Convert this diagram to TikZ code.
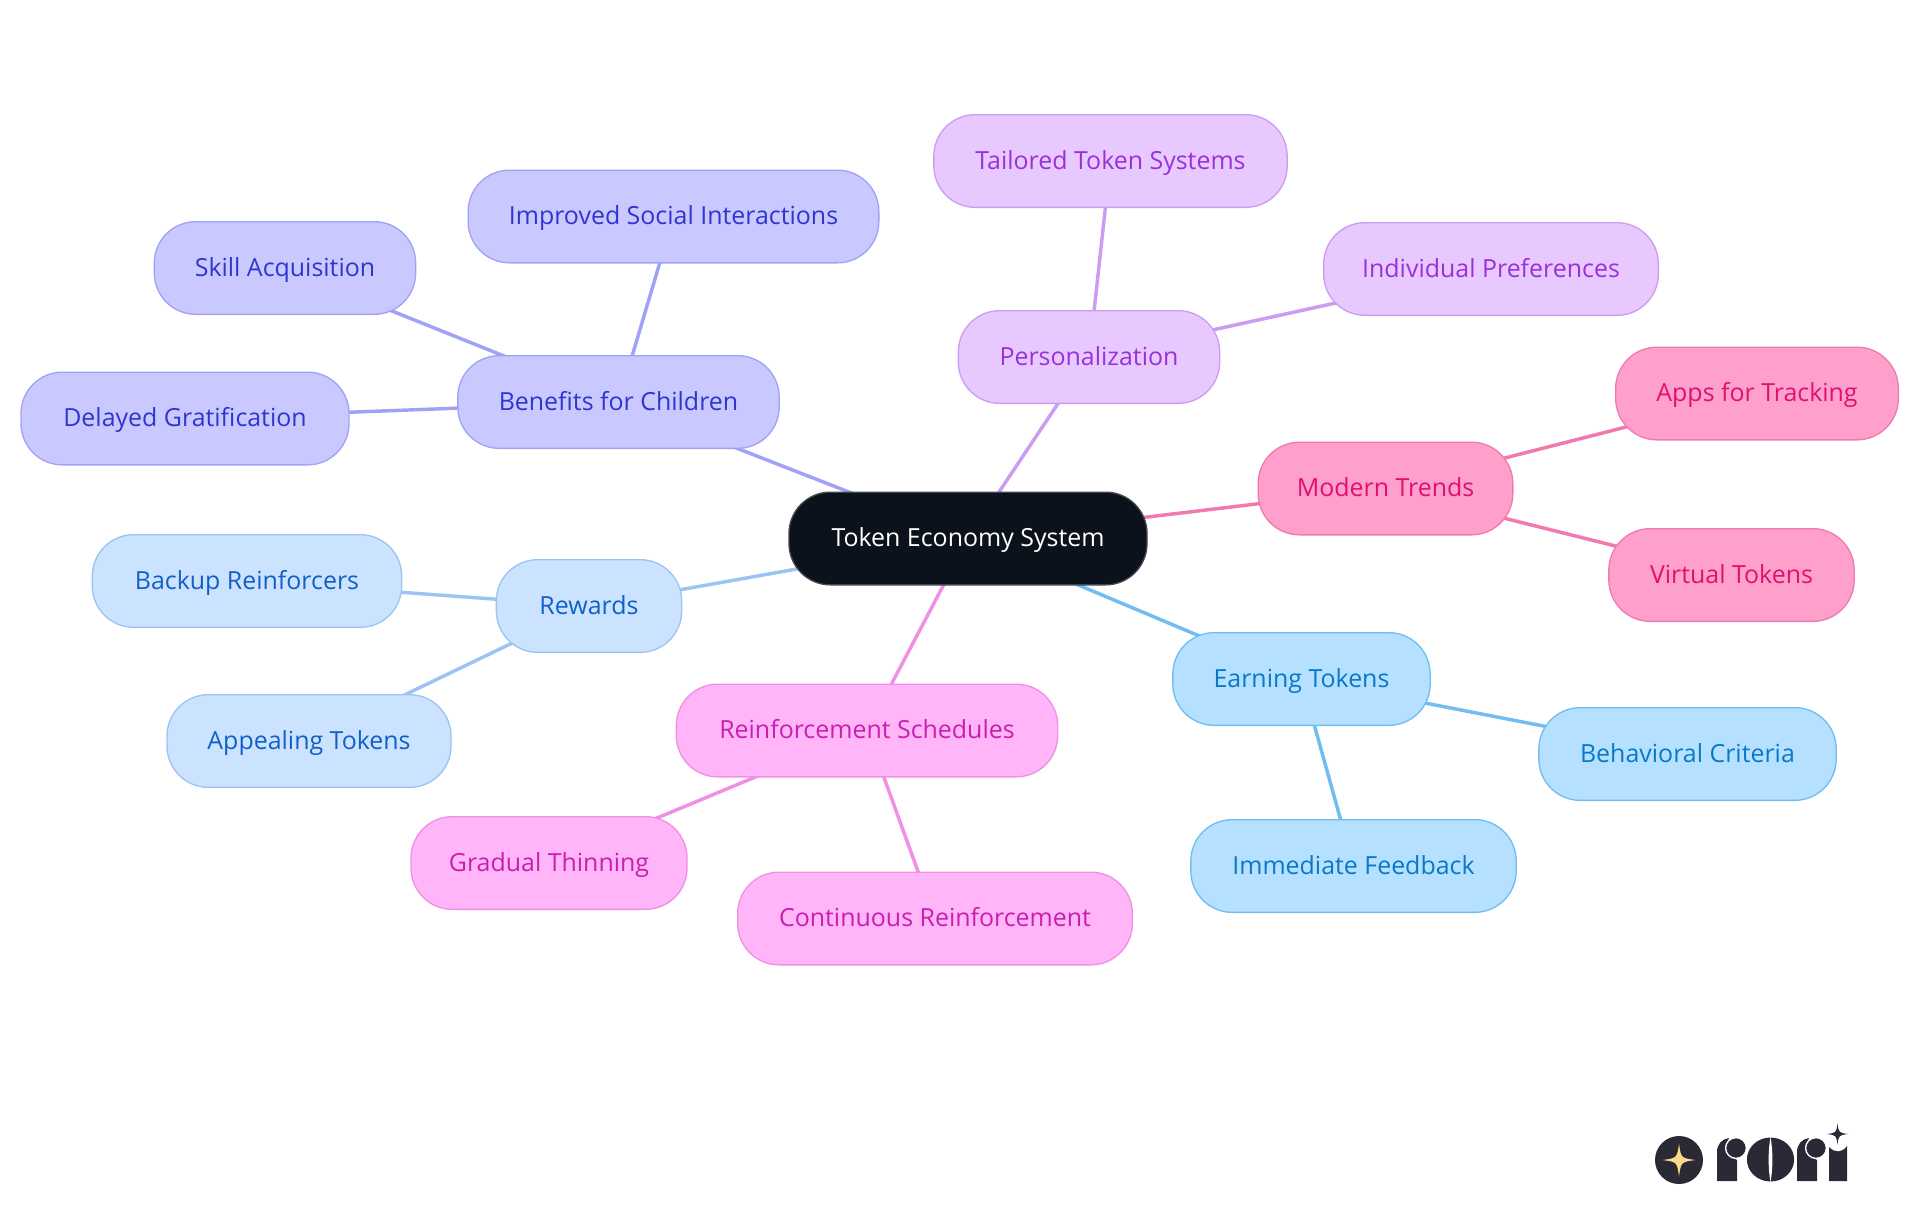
\documentclass[tikz,border=0pt]{standalone}
\usepackage{fontspec}
\setmainfont{Open Sans}
\usepackage{tikz}
\usetikzlibrary{backgrounds}

\definecolor{rootfill}{HTML}{0B121B}
\definecolor{rootline}{HTML}{41464D}
\definecolor{benefitfill}{HTML}{C9C9FF}
\definecolor{benefitline}{HTML}{A0A3F5}
\definecolor{benefittext}{HTML}{2F35CF}
\definecolor{rewardfill}{HTML}{CCE3FF}
\definecolor{rewardline}{HTML}{9CC4F2}
\definecolor{rewardtext}{HTML}{1060C8}
\definecolor{schedfill}{HTML}{FFB5F7}
\definecolor{schedline}{HTML}{F090E5}
\definecolor{schedtext}{HTML}{C81FB0}
\definecolor{earnfill}{HTML}{B5E0FF}
\definecolor{earnline}{HTML}{72BDF0}
\definecolor{earntext}{HTML}{0A78C8}
\definecolor{trendfill}{HTML}{FF9FCB}
\definecolor{trendline}{HTML}{F07AB0}
\definecolor{trendtext}{HTML}{E01070}
\definecolor{personfill}{HTML}{E8C9FF}
\definecolor{personline}{HTML}{CC9CF0}
\definecolor{persontext}{HTML}{9A30DA}
\definecolor{logodark}{HTML}{2A2935}
\definecolor{logostar}{HTML}{FBD98A}

\newcommand{\sparkle}[3]{\fill[#3, shift={(#1)}, scale=#2] (0,-1) .. controls (0.12,-0.12) .. (1,0) .. controls (0.12,0.12) .. (0,1) .. controls (-0.12,0.12) .. (-1,0) .. controls (-0.12,-0.12) .. cycle;}

\tikzset{
  mapnode/.style={rectangle, rounded corners=31pt, minimum height=69.5pt, inner sep=0pt, outer sep=0pt, line width=1pt, text height=15.6pt, text depth=3.2pt, font=\fontsize{18.7pt}{22pt}\selectfont},
  rootnode/.style={mapnode, fill=rootfill, draw=rootline, text=white},
  benefitnode/.style={mapnode, fill=benefitfill, draw=benefitline, text=benefittext},
  rewardnode/.style={mapnode, fill=rewardfill, draw=rewardline, text=rewardtext},
  schednode/.style={mapnode, fill=schedfill, draw=schedline, text=schedtext},
  earnnode/.style={mapnode, fill=earnfill, draw=earnline, text=earntext},
  trendnode/.style={mapnode, fill=trendfill, draw=trendline, text=trendtext},
  personnode/.style={mapnode, fill=personfill, draw=personline, text=persontext},
  maplink/.style={line width=2.6pt}
}

\begin{document}
\begin{tikzpicture}[x=0.75pt, y=-0.75pt]
\useasboundingbox (0,0) rectangle (1920,1215);

\node[rootnode, minimum width=268.5pt] (root) at (968,538.5) {Token Economy System};

\node[benefitnode, minimum width=241pt] (benefits) at (618.5,402) {Benefits for Children};
\node[benefitnode, minimum width=308pt] (social) at (673.5,216.5) {Improved Social Interactions};
\node[benefitnode, minimum width=196pt] (skill) at (285,268) {Skill Acquisition};
\node[benefitnode, minimum width=246pt] (delayed) at (185,418.5) {Delayed Gratification};

\node[rewardnode, minimum width=139pt] (rewards) at (589,606) {Rewards};
\node[rewardnode, minimum width=232pt] (backup) at (247,581) {Backup Reinforcers};
\node[rewardnode, minimum width=213pt] (appealing) at (309,741) {Appealing Tokens};

\node[schednode, minimum width=286pt] (schedules) at (867,730.5) {Reinforcement Schedules};
\node[schednode, minimum width=207pt] (gradual) at (549,863) {Gradual Thinning};
\node[schednode, minimum width=296pt] (continuous) at (935,918.5) {Continuous Reinforcement};

\node[earnnode, minimum width=193pt] (earning) at (1301.5,679) {Earning Tokens};
\node[earnnode, minimum width=223pt] (behavioral) at (1687.5,754) {Behavioral Criteria};
\node[earnnode, minimum width=244pt] (immediate) at (1353.5,866) {Immediate Feedback};

\node[trendnode, minimum width=191pt] (trends) at (1385.5,488.5) {Modern Trends};
\node[trendnode, minimum width=212pt] (apps) at (1757,393.5) {Apps for Tracking};
\node[trendnode, minimum width=184pt] (virtual) at (1731.5,575) {Virtual Tokens};

\node[personnode, minimum width=196pt] (person) at (1089,357) {Personalization};
\node[personnode, minimum width=265pt] (tailored) at (1110.5,161) {Tailored Token Systems};
\node[personnode, minimum width=251pt] (individual) at (1491,269) {Individual Preferences};

\begin{scope}[on background layer]
\draw[maplink, benefitline] (root.center) -- (benefits.center);
\draw[maplink, benefitline] (benefits.center) -- (social.center);
\draw[maplink, benefitline] (benefits.center) -- (skill.center);
\draw[maplink, benefitline] (benefits.center) -- (delayed.center);
\draw[maplink, rewardline] (root.center) -- (rewards.center);
\draw[maplink, rewardline] (rewards.center) -- (backup.center);
\draw[maplink, rewardline] (rewards.center) -- (appealing.center);
\draw[maplink, schedline] (root.center) -- (schedules.center);
\draw[maplink, schedline] (schedules.center) -- (gradual.center);
\draw[maplink, schedline] (schedules.center) -- (continuous.center);
\draw[maplink, earnline] (root.center) -- (earning.center);
\draw[maplink, earnline] (earning.center) -- (behavioral.center);
\draw[maplink, earnline] (earning.center) -- (immediate.center);
\draw[maplink, trendline] (root.center) -- (trends.center);
\draw[maplink, trendline] (trends.center) -- (apps.center);
\draw[maplink, trendline] (trends.center) -- (virtual.center);
\draw[maplink, personline] (root.center) -- (person.center);
\draw[maplink, personline] (person.center) -- (tailored.center);
\draw[maplink, personline] (person.center) -- (individual.center);
\end{scope}

% logo
\fill[logodark] (1679,1160) circle (18pt);
\sparkle{1679,1160}{16.5}{logostar}
\foreach \dx in {0,80} {
  \fill[logodark, xshift=\dx*0.75pt] (1717,1181) -- (1717,1152) .. controls (1717,1144) and (1722,1139) .. (1729,1138) .. controls (1724,1147) and (1728,1156) .. (1737,1160) -- (1737,1181) -- cycle;
  \filldraw[logodark, draw=white, line width=1pt, xshift=\dx*0.75pt] (1736,1148) circle (7.8pt);
}
\fill[logodark] (1770.5,1159.5) ellipse (17.7pt and 16.5pt);
\fill[white] (1770.5,1137) .. controls (1768,1150) and (1768,1169) .. (1770.5,1182) .. controls (1773,1169) and (1773,1150) .. (1770.5,1137) -- cycle;
\fill[logodark] (1829,1181) -- (1829,1147) .. controls (1835,1153) and (1842,1153) .. (1847,1146) -- (1847,1181) -- cycle;
\sparkle{1837.5,1134}{10.5}{logodark}

\end{tikzpicture}
\end{document}
